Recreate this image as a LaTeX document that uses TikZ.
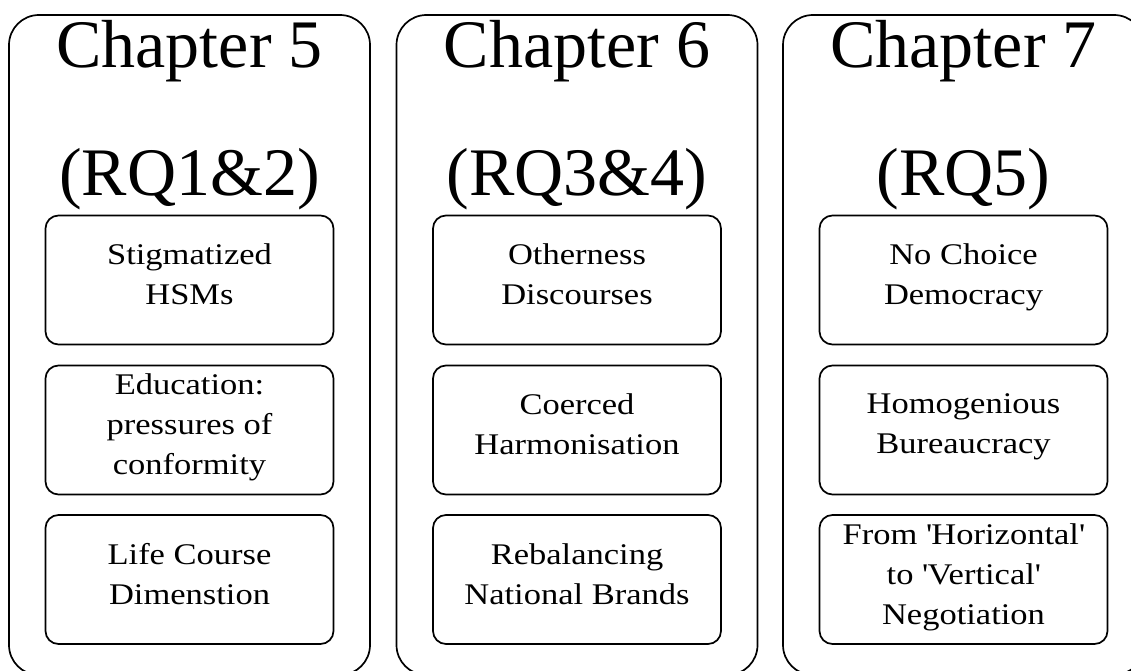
\documentclass[tikz,border=0pt]{standalone}
\usepackage{fontspec}
\setmainfont{Liberation Serif}
\newfontfamily\headfont{Liberation Serif}
\newfontfamily\itemfont[FakeStretch=1.15]{Liberation Serif}
\begin{document}
\begin{tikzpicture}[x=1pt,y=-1pt,
  chapterbox/.style={draw, line width=1.7pt, rounded corners=30pt,
    minimum width=361pt, minimum height=660pt, inner sep=0pt},
  topicbox/.style={draw, line width=1.7pt, rounded corners=13pt,
    minimum width=288pt, minimum height=129pt, inner sep=0pt},
  heading/.style={anchor=base, inner sep=0pt,
    font=\headfont\fontsize{68}{80}\selectfont},
  topic/.style={align=center, inner sep=0pt, anchor=north,
    font=\itemfont\fontsize{30}{40}\selectfont},
  twolines/.style={yshift=-29pt},
  threelines/.style={yshift=-9pt}]
\useasboundingbox (0,0) rectangle (1131,671);

% chapter frames
\node[chapterbox] (ch5) at (189.5,345) {};
\node[chapterbox] (ch6) at (577,345) {};
\node[chapterbox] (ch7) at (963.5,345) {};

% chapter headings
\node[heading] (h5a) at (189.5,68) {Chapter 5};
\node[heading] (h5b) at (189.5,195) {(RQ1\&2)};
\node[heading] (h6a) at (577,68) {Chapter 6};
\node[heading] (h6b) at (577,195) {(RQ3\&4)};
\node[heading] (h7a) at (963.5,68) {Chapter 7};
\node[heading] (h7b) at (963.5,195) {(RQ5)};

% topic boxes
\foreach \c/\x in {5/189.5, 6/577, 7/963.5} {
  \node[topicbox] (b\c a) at (\x,280) {};
  \node[topicbox] (b\c b) at (\x,430) {};
  \node[topicbox] (b\c c) at (\x,579.5) {};
}

% topic texts, hung from the top edge of each box
\node[topic, twolines]   (t5a) at (b5a.north) {Stigmatized\\HSMs};
\node[topic, threelines] (t5b) at (b5b.north) {Education:\\pressures of\\conformity};
\node[topic, twolines]   (t5c) at (b5c.north) {Life Course\\Dimenstion};
\node[topic, twolines]   (t6a) at (b6a.north) {Otherness\\Discourses};
\node[topic, twolines]   (t6b) at (b6b.north) {Coerced\\Harmonisation};
\node[topic, twolines]   (t6c) at (b6c.north) {Rebalancing\\National Brands};
\node[topic, twolines]   (t7a) at (b7a.north) {No Choice\\Democracy};
\node[topic, twolines]   (t7b) at (b7b.north) {Homogenious\\Bureaucracy};
\node[topic, threelines] (t7c) at (b7c.north) {From \textquotesingle Horizontal\textquotesingle\\to \textquotesingle Vertical\textquotesingle\\Negotiation};
\end{tikzpicture}
\end{document}
